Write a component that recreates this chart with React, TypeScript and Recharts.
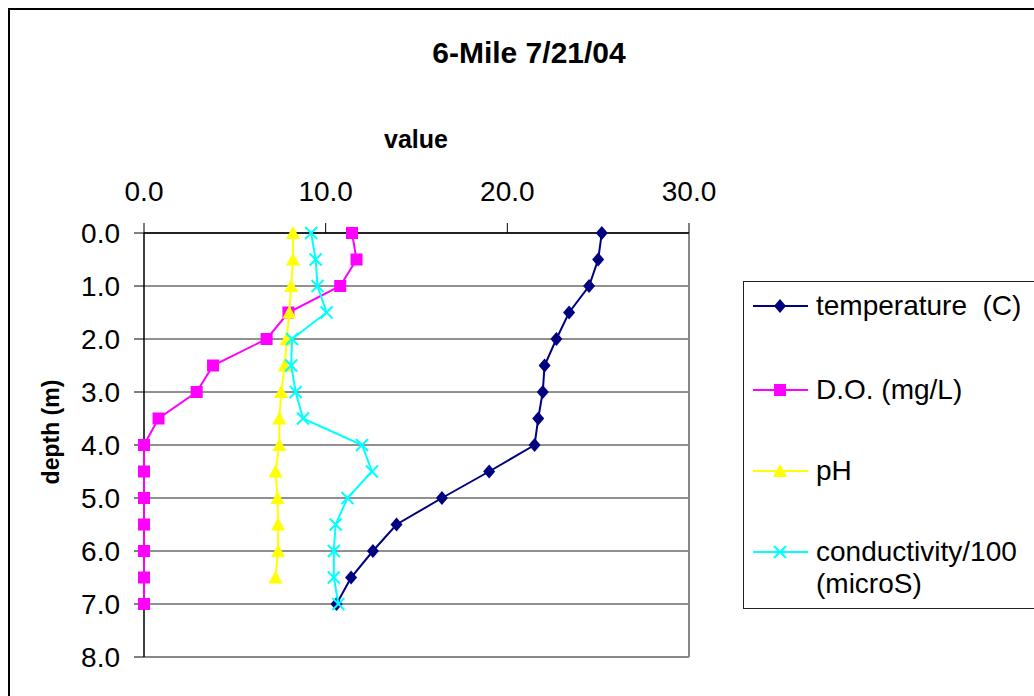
import React from "react";
import { ScatterChart, Scatter, XAxis, YAxis, CartesianGrid, ReferenceLine } from "recharts";

const depths = [0, 0.5, 1, 1.5, 2, 2.5, 3, 3.5, 4, 4.5, 5, 5.5, 6, 6.5, 7];
const temperature = [25.2, 25.0, 24.5, 23.4, 22.7, 22.05, 21.95, 21.7, 21.5, 19.0, 16.4, 13.9, 12.6, 11.4, 10.6];
const dissolvedOxygen = [11.45, 11.7, 10.8, 7.95, 6.75, 3.8, 2.9, 0.8, 0, 0, 0, 0, 0, 0, 0];
const pH = [8.2, 8.2, 8.1, 8.0, 7.85, 7.75, 7.55, 7.45, 7.45, 7.24, 7.35, 7.38, 7.38, 7.24];
const conductivity = [9.2, 9.45, 9.55, 10.05, 8.15, 8.1, 8.35, 8.75, 12.0, 12.55, 11.2, 10.55, 10.45, 10.45, 10.7];

const xTicks = [0, 10, 20, 30];
const yTicks = [0, 1, 2, 3, 4, 5, 6, 7, 8];

const title = "6-Mile 7/21/04";
const xLabel = "value";
const yLabel = "depth (m)";

const toPoints = (vals: number[]) => vals.map((v, i) => ({ v, d: depths[i] }));

const FONT = "'Liberation Sans', Arial, sans-serif";

type ShapeProps = { cx?: number; cy?: number };

const Diamond = ({ cx = 0, cy = 0 }: ShapeProps) => (
  <polygon points={`${cx},${cy - 7} ${cx + 6},${cy} ${cx},${cy + 7} ${cx - 6},${cy}`} fill="#000080" />
);
const Square = ({ cx = 0, cy = 0 }: ShapeProps) => (
  <rect x={cx - 6} y={cy - 6} width={12} height={12} fill="#FF00FF" />
);
const Triangle = ({ cx = 0, cy = 0 }: ShapeProps) => (
  <polygon points={`${cx},${cy - 7} ${cx + 7},${cy + 6} ${cx - 7},${cy + 6}`} fill="#FFFF00" />
);
const XMark = ({ cx = 0, cy = 0 }: ShapeProps) => (
  <g stroke="#00FFFF" strokeWidth={2}>
    <line x1={cx - 6} y1={cy - 6} x2={cx + 6} y2={cy + 6} />
    <line x1={cx - 6} y1={cy + 6} x2={cx + 6} y2={cy - 6} />
  </g>
);

const series = [
  { name: "temperature  (C)", color: "#000080", data: temperature, Shape: Diamond },
  { name: "D.O. (mg/L)", color: "#FF00FF", data: dissolvedOxygen, Shape: Square },
  { name: "pH", color: "#FFFF00", data: pH, Shape: Triangle },
  { name: "conductivity/100\n(microS)", color: "#00FFFF", data: conductivity, Shape: XMark },
];

const legendRows = [306, 390, 471, 552];

export default function App() {
  return (
    <div style={{ position: "absolute", left: 0, top: 0, width: 1034, height: 696, overflow: "hidden", background: "#fff", fontFamily: FONT }}>
      <div style={{ position: "absolute", left: 8, top: 8, width: 1100, height: 800, border: "2px solid #000" }} />
      <div style={{ position: "absolute", left: 329, width: 400, top: 35, textAlign: "center", fontSize: 30, fontWeight: "bold", lineHeight: "36px" }}>
        {title}
      </div>
      <div style={{ position: "absolute", left: 316, width: 200, top: 124, textAlign: "center", fontSize: 25, fontWeight: "bold", lineHeight: "30px" }}>
        {xLabel}
      </div>
      <div style={{ position: "absolute", left: 51, top: 432, width: 0, height: 0 }}>
        <div style={{ position: "absolute", left: -100, top: -15, width: 200, textAlign: "center", fontSize: 23, fontWeight: "bold", lineHeight: "30px", transform: "rotate(-90deg)" }}>
          {yLabel}
        </div>
      </div>
      <div style={{ position: "absolute", left: 0, top: 0 }}>
        <ScatterChart width={1034} height={696} margin={{ top: 173, left: 84, right: 345, bottom: 39 }}>
          <CartesianGrid horizontal vertical={false} stroke="#222" strokeWidth={1} />
          <XAxis
            type="number"
            dataKey="v"
            orientation="top"
            domain={[0, 30]}
            ticks={xTicks}
            tickFormatter={(t: number) => t.toFixed(1)}
            height={60}
            tickSize={10}
            tickMargin={22}
            axisLine={{ stroke: "#000", strokeWidth: 1.5 }}
            tickLine={{ stroke: "#000" }}
            tick={{ fill: "#000", fontSize: 28, fontFamily: FONT }}
          />
          <YAxis
            type="number"
            dataKey="d"
            reversed
            domain={[0, 8]}
            ticks={yTicks}
            tickFormatter={(t: number) => t.toFixed(1)}
            width={60}
            tickSize={10}
            tickMargin={14}
            axisLine={{ stroke: "#000", strokeWidth: 1.5 }}
            tickLine={{ stroke: "#000" }}
            tick={{ fill: "#000", fontSize: 28, fontFamily: FONT }}
          />
          <ReferenceLine y={8} stroke="#888" strokeWidth={2} />
          <ReferenceLine x={30} stroke="#888" strokeWidth={2} />
          {series.map((s) => (
            <Scatter
              key={s.name}
              name={s.name}
              data={toPoints(s.data)}
              fill={s.color}
              line={{ stroke: s.color, strokeWidth: 2 }}
              lineType="joint"
              shape={(p: any) => <s.Shape cx={p.cx} cy={p.cy} />}
              isAnimationActive={false}
            />
          ))}
        </ScatterChart>
      </div>
      <div style={{ position: "absolute", left: 743, top: 281, width: 400, height: 326, border: "1px solid #222" }} />
      {series.map((s, i) => (
        <div key={s.name} style={{ position: "absolute", left: 752, top: legendRows[i] - 16 }}>
          <svg width={60} height={32} style={{ position: "absolute", left: 0, top: 0 }}>
            <line x1={1} y1={16} x2={56} y2={16} stroke={s.color} strokeWidth={2} />
            <s.Shape cx={28} cy={16} />
          </svg>
          <div style={{ position: "absolute", left: 64, top: 0, fontSize: 28, lineHeight: "32px", whiteSpace: "pre" }}>
            {s.name}
          </div>
        </div>
      ))}
    </div>
  );
}
